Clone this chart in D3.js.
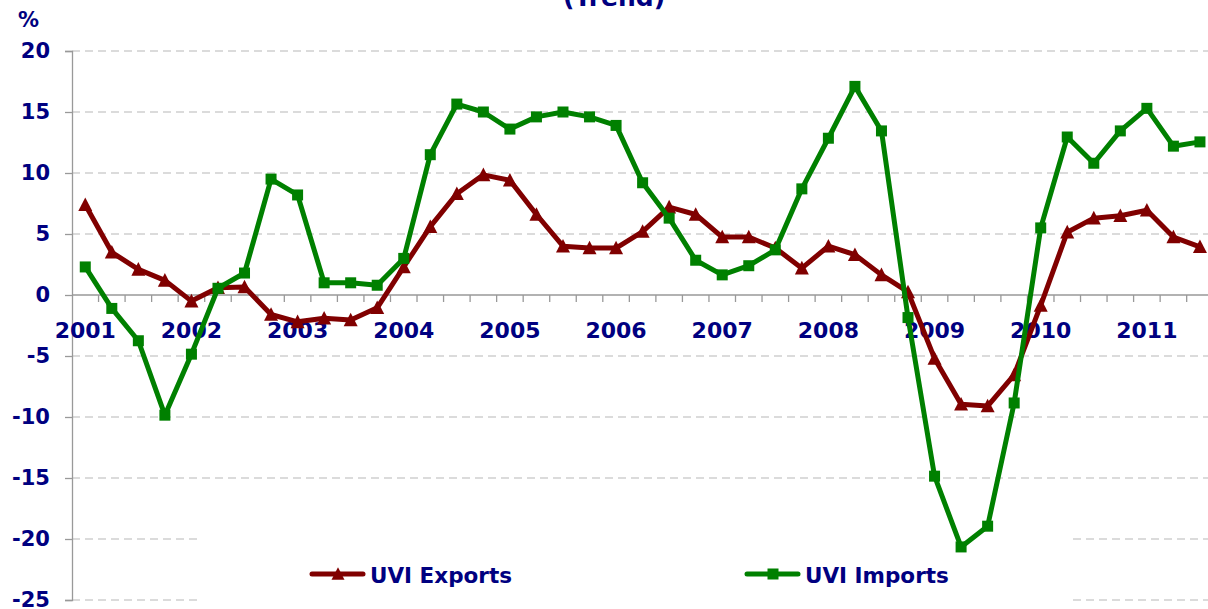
<!DOCTYPE html>
<html>
<head>
<meta charset="utf-8">
<script src="https://cdn.jsdelivr.net/npm/d3@7"></script>
<style>
  html, body { margin: 0; padding: 0; background: #fff; overflow: hidden; }
  svg text { font-family: "DejaVu Sans", Verdana, sans-serif; font-weight: bold; fill: #000080; }
</style>
</head>
<body>
<div id="app"></div>
<script>
const WIDTH = 1208;
const HEIGHT = 609;

// quarterly, 2001 Q1 .. 2011 Q3
const quarters = d3.range(43);
const yearLabels = ["2001", "2002", "2003", "2004", "2005", "2006", "2007", "2008", "2009", "2010", "2011"];

const uviExports = [
  7.4, 3.5, 2.1, 1.2, -0.5, 0.6, 0.65, -1.6, -2.2, -1.9, -2.05, -1.05,
  2.3, 5.6, 8.3, 9.85, 9.4, 6.6, 4.0, 3.85, 3.85, 5.2, 7.2, 6.6,
  4.75, 4.75, 3.85, 2.2, 4.0, 3.3, 1.65, 0.25, -5.2, -8.95, -9.1, -6.55,
  -0.85, 5.15, 6.3, 6.5, 6.95, 4.75, 3.95
];
const uviImports = [
  2.3, -1.1, -3.75, -9.85, -4.85, 0.55, 1.8, 9.5, 8.2, 1.0, 1.0, 0.8,
  3.0, 11.5, 15.65, 15.0, 13.6, 14.6, 15.0, 14.6, 13.9, 9.2, 6.3, 2.85,
  1.65, 2.4, 3.7, 8.7, 12.85, 17.1, 13.45, -1.85, -14.85, -20.65, -18.95, -8.85,
  5.5, 12.95, 10.8, 13.45, 15.3, 12.2, 12.55
];
const yTicks = [20, 15, 10, 5, 0, -5, -10, -15, -20, -25];

const RED = "#800000";
const GREEN = "#008000";

const svg = d3.select("#app").append("svg")
  .attr("width", WIDTH)
  .attr("height", HEIGHT);

const x = d3.scaleBand().domain(quarters).range([72, 72 + 43 * 26.54]);
const y = d3.scaleLinear().domain([-25, 20]).range([600, 51]);
const cx = (i) => x(i) + x.bandwidth() / 2;

// gridlines
svg.append("g")
  .selectAll("line")
  .data(yTicks.filter((d) => d !== 0))
  .join("line")
  .attr("x1", 72).attr("x2", WIDTH)
  .attr("y1", (d) => y(d)).attr("y2", (d) => y(d))
  .attr("stroke", "#cfcfcf")
  .attr("stroke-width", 1.3)
  .attr("stroke-dasharray", "8,5");

// legend background hides the lower gridlines
svg.append("rect")
  .attr("x", 198).attr("y", 508)
  .attr("width", 873).attr("height", 101)
  .attr("fill", "#fff");

// y axis
const yAxis = svg.append("g")
  .attr("transform", "translate(72,0)")
  .call(d3.axisLeft(y).tickValues(yTicks).tickSize(7).tickPadding(15).tickFormat(d3.format("d")));
yAxis.select(".domain").attr("stroke", "#999").attr("stroke-width", 1.3);
yAxis.selectAll(".tick line").attr("stroke", "#999").attr("stroke-width", 1.3);
yAxis.selectAll("text").attr("font-size", 21).attr("fill", "#000080")
  .attr("font-family", "DejaVu Sans").attr("font-weight", "bold")
  .text((d) => (d < 0 ? "-" + Math.abs(d) : d));

// x axis at zero
const xg = svg.append("g").attr("transform", `translate(0,${y(0)})`);
xg.append("line")
  .attr("x1", 72).attr("x2", WIDTH)
  .attr("stroke", "#999").attr("stroke-width", 1.5);
xg.selectAll("line.tick")
  .data(quarters.slice(1))
  .join("line")
  .attr("class", "tick")
  .attr("x1", (d) => x(d)).attr("x2", (d) => x(d))
  .attr("y1", 0).attr("y2", 7)
  .attr("stroke", "#999").attr("stroke-width", 1.3);
xg.selectAll("text")
  .data(yearLabels)
  .join("text")
  .attr("x", (d, i) => cx(i * 4))
  .attr("y", 43)
  .attr("text-anchor", "middle")
  .attr("font-size", 22)
  .text((d) => d);

// title & unit
svg.append("text")
  .attr("x", 614).attr("y", 6)
  .attr("text-anchor", "middle")
  .attr("font-size", 25)
  .text("(Trend)");
svg.append("text")
  .attr("x", 18).attr("y", 27)
  .attr("font-size", 21)
  .text("%");

// series
const line = d3.line().x((d, i) => cx(i)).y((d) => y(d));

function triangle(s) {
  const h = s * 0.9;
  return `M0,${-h / 2 - 1}L${s / 2},${h / 2}L${-s / 2},${h / 2}Z`;
}

svg.append("path")
  .datum(uviExports)
  .attr("fill", "none")
  .attr("stroke", RED)
  .attr("stroke-width", 5)
  .attr("stroke-linejoin", "round")
  .attr("d", line);
svg.append("g")
  .selectAll("path")
  .data(uviExports)
  .join("path")
  .attr("transform", (d, i) => `translate(${cx(i)},${y(d)})`)
  .attr("d", triangle(14))
  .attr("fill", RED);

svg.append("path")
  .datum(uviImports)
  .attr("fill", "none")
  .attr("stroke", GREEN)
  .attr("stroke-width", 5)
  .attr("stroke-linejoin", "round")
  .attr("d", line);
svg.append("g")
  .selectAll("rect")
  .data(uviImports)
  .join("rect")
  .attr("x", (d, i) => cx(i) - 5.5)
  .attr("y", (d) => y(d) - 5.5)
  .attr("width", 11).attr("height", 11)
  .attr("fill", GREEN);

// legend
const legendItems = [
  { name: "UVI Exports", color: RED, marker: "triangle", x: 310 },
  { name: "UVI Imports", color: GREEN, marker: "square", x: 745 },
];
const lg = svg.append("g").selectAll("g")
  .data(legendItems)
  .join("g")
  .attr("transform", (d) => `translate(${d.x},574)`);
lg.append("line")
  .attr("x1", 2).attr("x2", 53)
  .attr("stroke", (d) => d.color)
  .attr("stroke-width", 5)
  .attr("stroke-linecap", "round");
lg.filter((d) => d.marker === "triangle").append("path")
  .attr("transform", "translate(28,0)")
  .attr("d", triangle(13))
  .attr("fill", (d) => d.color);
lg.filter((d) => d.marker === "square").append("rect")
  .attr("x", 22.5).attr("y", -5.5)
  .attr("width", 11).attr("height", 11)
  .attr("fill", (d) => d.color);
lg.append("text")
  .attr("x", 60)
  .attr("y", 9)
  .attr("font-size", 21.5)
  .text((d) => d.name);
</script>
</body>
</html>
